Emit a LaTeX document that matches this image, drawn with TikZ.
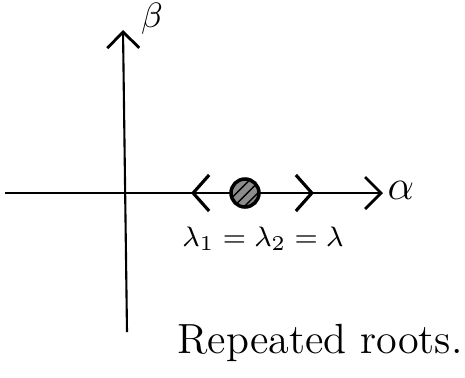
\documentclass[tikz,border=0pt]{standalone}
\usetikzlibrary{arrows.meta,patterns}
\begin{document}
\begin{tikzpicture}[
  scale=1,
  axis/.style={line width=0.6pt, draw=black, -{Straight Barb[length=1.6mm, width=3.2mm, line width=0.8pt]}},
  move/.style={line width=0.8pt, draw=black, -{Straight Barb[length=1.6mm, width=3.6mm, line width=0.9pt]}},
  root/.style={circle, draw=black, line width=1pt, preaction={fill=black!45}, pattern=north east lines, inner sep=0pt, minimum size=2.8mm}
]
  \useasboundingbox (0,0) rectangle (4.65,3.77);

  % Ejes
  \coordinate (xl) at (0.05,1.84);
  \coordinate (xr) at (3.83,1.84);
  \coordinate (yb) at (1.27,0.45);
  \coordinate (yt) at (1.23,3.47);
  \draw[axis] (xl) -- (xr);
  \draw[axis] (yb) -- (yt);
  \node[font=\large] (alpha) at (4.01,1.87) {$\alpha$};
  \node[font=\normalsize] (beta) at (1.52,3.58) {$\beta$};

  % Raiz doble
  \node[root] (lam) at (2.45,1.84) {};
  \coordinate (lt) at (1.91,1.84);
  \coordinate (rt) at (3.14,1.84);
  \draw[move] (lam) -- (lt);
  \draw[move] (lam) -- (rt);

  % Etiquetas
  \node[font=\footnotesize] (eq) at (2.63,1.38) {$\lambda_1=\lambda_2=\lambda$};
  \node[font=\large] (txt) at (3.20,0.34) {Repeated roots.};
\end{tikzpicture}
\end{document}
